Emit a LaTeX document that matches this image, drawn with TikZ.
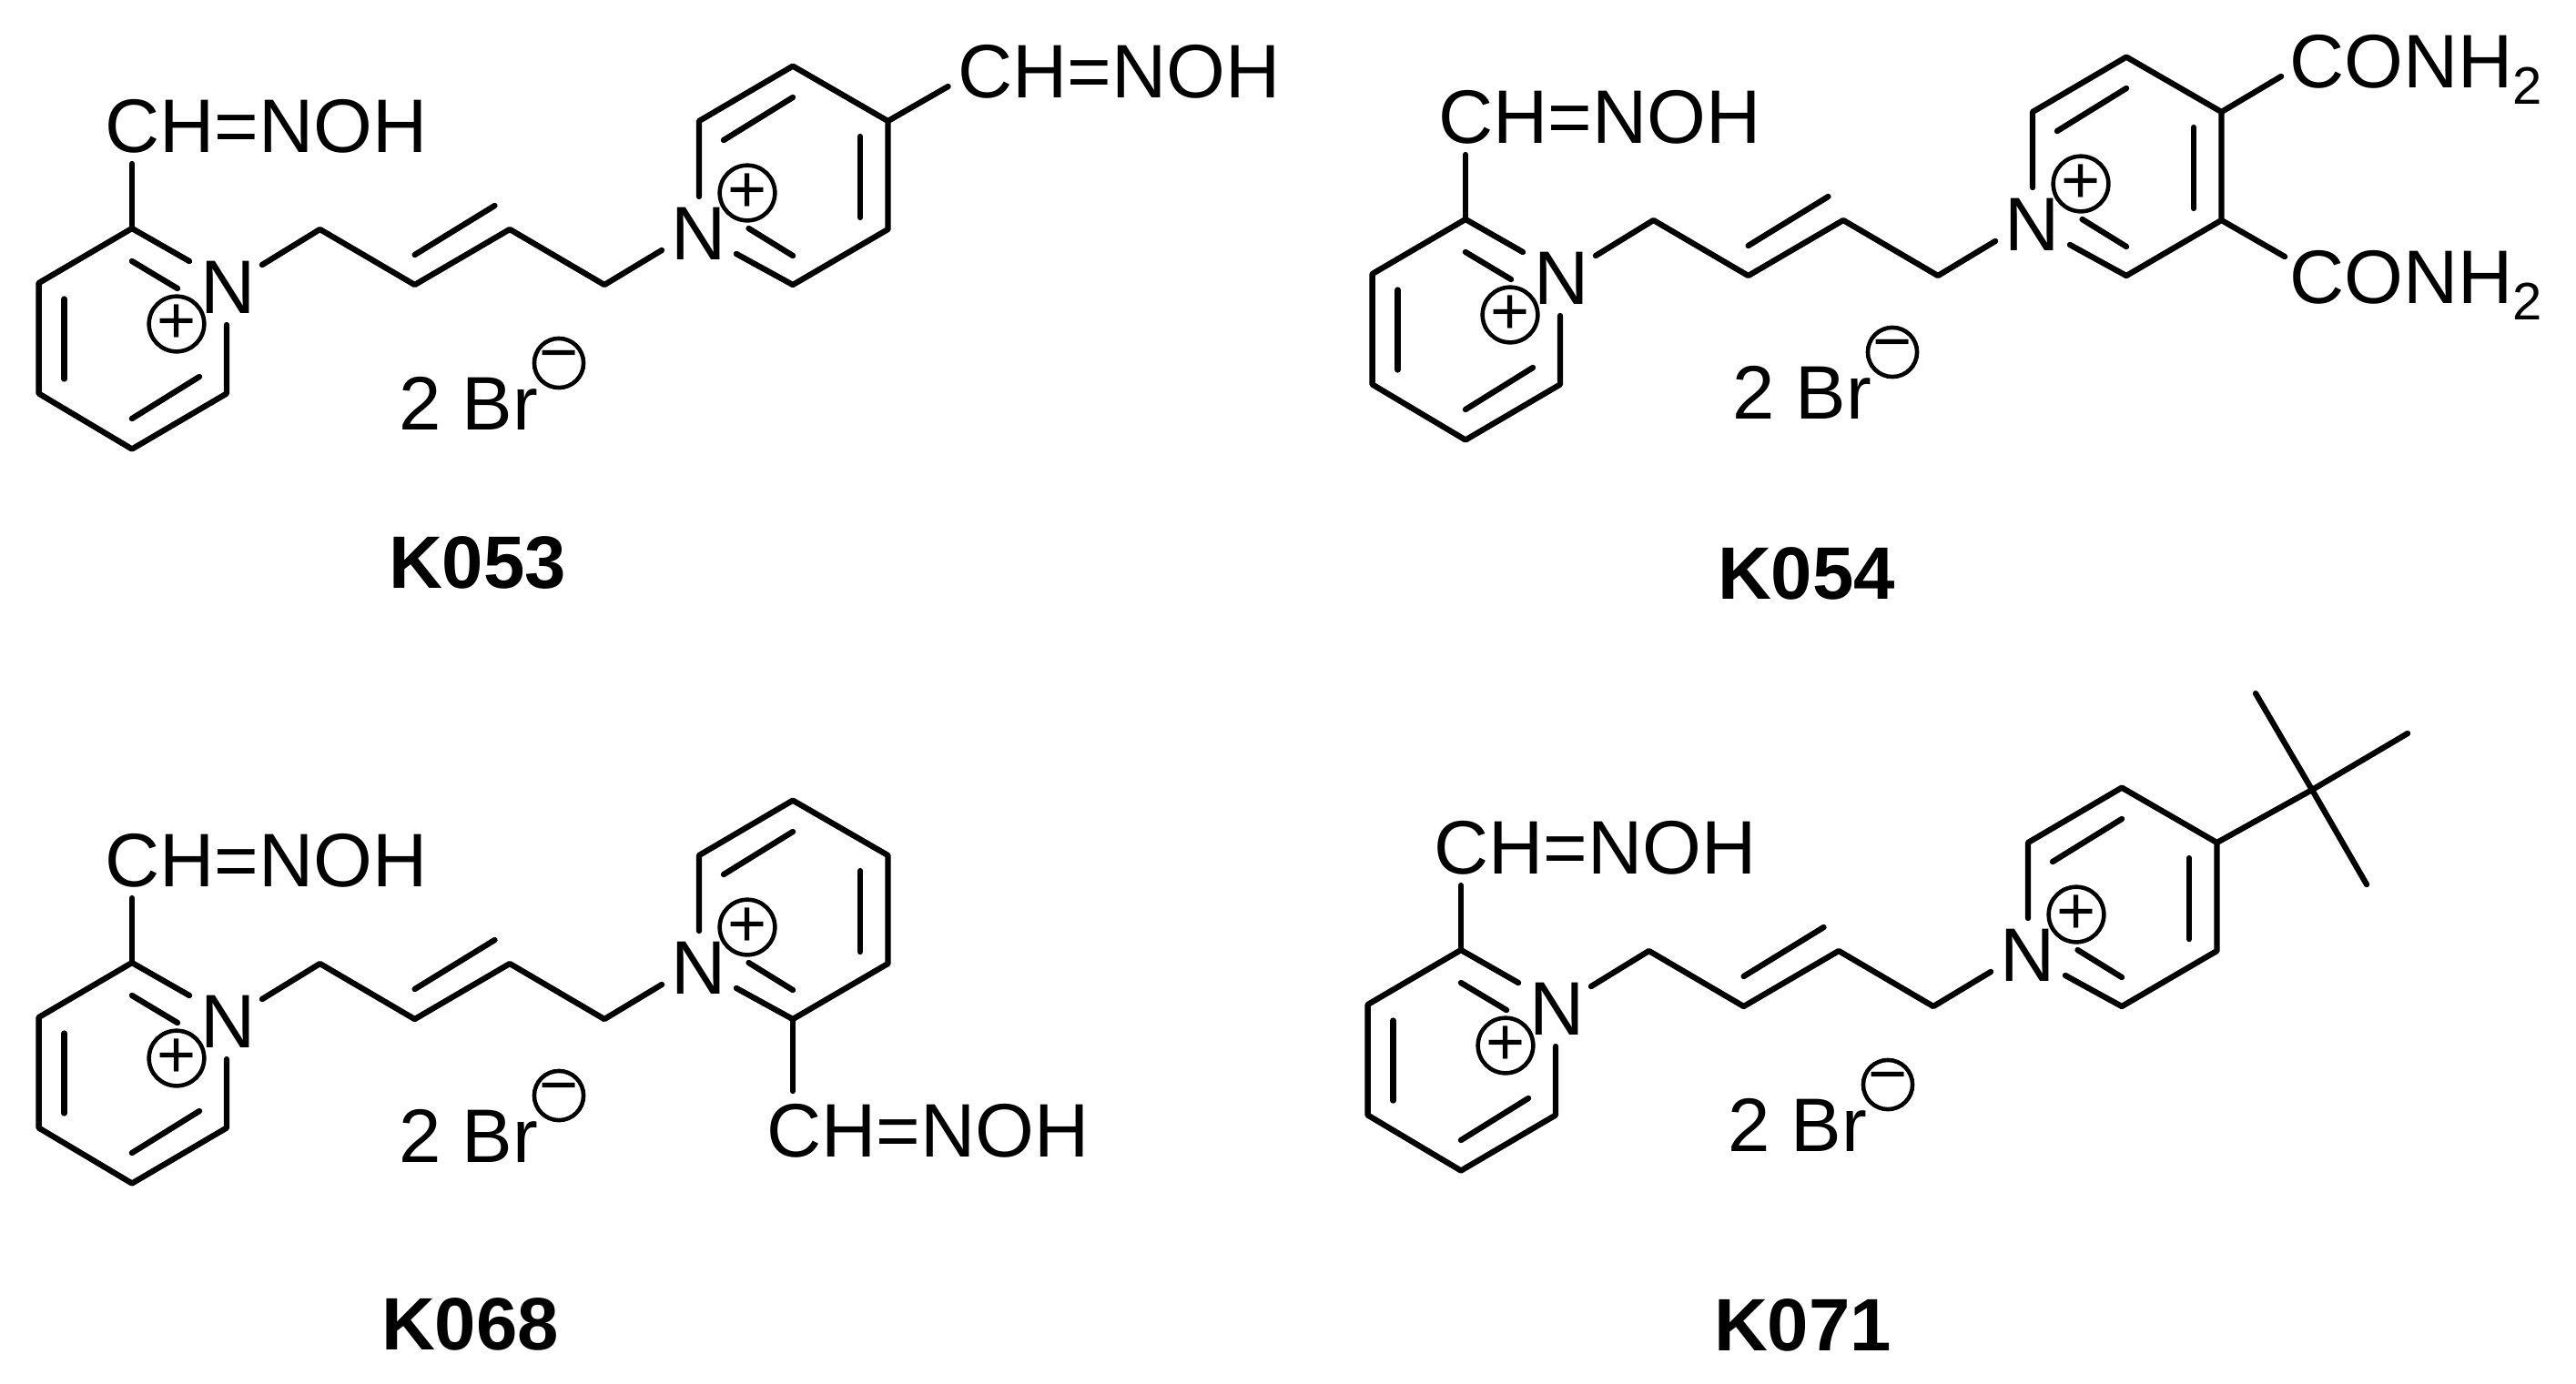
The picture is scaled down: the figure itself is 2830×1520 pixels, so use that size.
\documentclass[tikz,border=0pt]{standalone}
\usepackage{fontspec}
\setmainfont{Liberation Sans}
\newcommand{\chemfont}{\fontsize{23.7pt}{26pt}\selectfont}
\newcommand{\subfont}{\fontsize{16.5pt}{18pt}\selectfont}
\newcommand{\namefont}{\fontsize{23.2pt}{26pt}\selectfont\bfseries}
\newcommand{\subtwo}{\raisebox{-18\unitlength}{\subfont 2}}
\setlength{\unitlength}{0.2845pt}
\tikzset{
  bond/.style={line width=1.8pt,line cap=round,line join=round,black},
  chem/.style={font=\chemfont,inner sep=0pt,outer sep=0pt,anchor=base west},
  molname/.style={font=\namefont,inner sep=0pt,outer sep=0pt,anchor=base west},
  chargemark/.style={circle,draw=black,line width=1.3pt,minimum size=15.4pt,inner sep=0pt,outer sep=0pt,font=\fontsize{21pt}{22pt}\selectfont},
}
% #1 prefix, #2 dx, #3 dy : the shared 2-(hydroxyiminomethyl)pyridinium - butene - pyridinium core
\newcommand{\corepart}[3]{%
\begin{scope}[shift={(#2,#3)}]
  \coordinate (#1la) at (145,251);
  \coordinate (#1lb) at (42.6,311);
  \coordinate (#1lc) at (42.6,432.5);
  \coordinate (#1ld) at (145,493.5);
  \coordinate (#1le) at (249,432.5);
  \coordinate (#1lf) at (249,357);
  \coordinate (#1lg) at (208,287);
  \coordinate (#1lt) at (145,180);
  \coordinate (#1i1) at (145,287);
  \coordinate (#1i2) at (195,317);
  \coordinate (#1i3) at (219,414);
  \coordinate (#1i4) at (145,460);
  \coordinate (#1i5) at (70.6,328.5);
  \coordinate (#1i6) at (70.6,416.5);
  \coordinate (#1c0) at (288,291);
  \coordinate (#1c1) at (351.5,252);
  \coordinate (#1c2) at (455.6,313);
  \coordinate (#1c3) at (560,252);
  \coordinate (#1c4) at (664,313);
  \coordinate (#1c5) at (727,275);
  \coordinate (#1d1) at (455.6,280);
  \coordinate (#1d2) at (543.5,226);
  \coordinate (#1ra) at (768,216);
  \coordinate (#1rb) at (768,133);
  \coordinate (#1rc) at (871,72.6);
  \coordinate (#1rd) at (975.5,133);
  \coordinate (#1re) at (975.5,252);
  \coordinate (#1rf) at (871,313);
  \coordinate (#1rg) at (809,279);
  \coordinate (#1j1) at (795,154);
  \coordinate (#1j2) at (871,107);
  \coordinate (#1j3) at (945,150);
  \coordinate (#1j4) at (945,239);
  \coordinate (#1j5) at (822.5,251);
  \coordinate (#1j6) at (871,281);
  \node[chem] (#1oxime) at (115,167) {CH=NOH};
  \node[chem,anchor=center] (#1Nleft) at (251,316) {N};
  \node[chem,anchor=center] (#1Nright) at (768,257) {N};
  \node[chargemark] (#1pleft) at (194,356) {+};
  \node[chargemark] (#1pright) at (821,212) {+};
  \draw[bond] (#1lt) -- (#1la);
  \draw[bond] (#1lg) -- (#1la) -- (#1lb) -- (#1lc) -- (#1ld) -- (#1le) -- (#1lf);
  \draw[bond] (#1i1) -- (#1i2);
  \draw[bond] (#1i3) -- (#1i4);
  \draw[bond] (#1i5) -- (#1i6);
  \draw[bond] (#1c0) -- (#1c1) -- (#1c2) -- (#1c3) -- (#1c4) -- (#1c5);
  \draw[bond] (#1d1) -- (#1d2);
  \draw[bond] (#1ra) -- (#1rb) -- (#1rc) -- (#1rd) -- (#1re) -- (#1rf) -- (#1rg);
  \draw[bond] (#1j1) -- (#1j2);
  \draw[bond] (#1j3) -- (#1j4);
  \draw[bond] (#1j5) -- (#1j6);
\end{scope}}
% #1 prefix, #2 x, #3 baseline : the counter-ions
\newcommand{\brpart}[3]{%
  \node[chem] (#1br) at (#2,#3) {2 Br};
  \node[chargemark] (#1minus) at ([shift={(176,-73)}]#1br.base west) {−};
}
\begin{document}
\begin{tikzpicture}[x=0.01cm,y=-0.01cm]
\useasboundingbox (0,0) rectangle (2830,1520);
\fill[white] (0,0) rectangle (2830,1520);

% K053
\corepart{a}{0}{0}
\brpart{a}{438}{472}
\node[chem] (asub) at (1052,107) {CH=NOH};
\coordinate (asube) at (1041.6,95);
\draw[bond] (ard) -- (asube);
\node[molname] (aname) at (427,646) {K053};

% K054
\corepart{b}{1465}{-10}
\brpart{b}{1903}{460}
\node[chem] (bsubA) at (2515,96) {CONH\subtwo};
\node[chem] (bsubB) at (2515,333) {CONH\subtwo};
\coordinate (bendA) at (2506,84);
\coordinate (bendB) at (2510,282);
\draw[bond] (brd) -- (bendA);
\draw[bond] (bre) -- (bendB);
\node[molname] (bname) at (1887,658) {K054};

% K068
\corepart{c}{0}{807}
\brpart{c}{438}{1277}
\node[chem] (csub) at (842,1271) {CH=NOH};
\coordinate (csube) at (871,1199);
\draw[bond] (crf) -- (csube);
\node[molname] (cname) at (419,1483) {K068};

% K071
\corepart{d}{1460}{793}
\brpart{d}{1898}{1265}
\coordinate (dq) at (2540,868);
\coordinate (dm1) at (2478,762);
\coordinate (dm2) at (2645,806);
\coordinate (dm3) at (2600,972);
\draw[bond] (drd) -- (dq) -- (dm2);
\draw[bond] (dm1) -- (dq) -- (dm3);
\node[molname] (dname) at (1883,1484) {K071};
\end{tikzpicture}
\end{document}
